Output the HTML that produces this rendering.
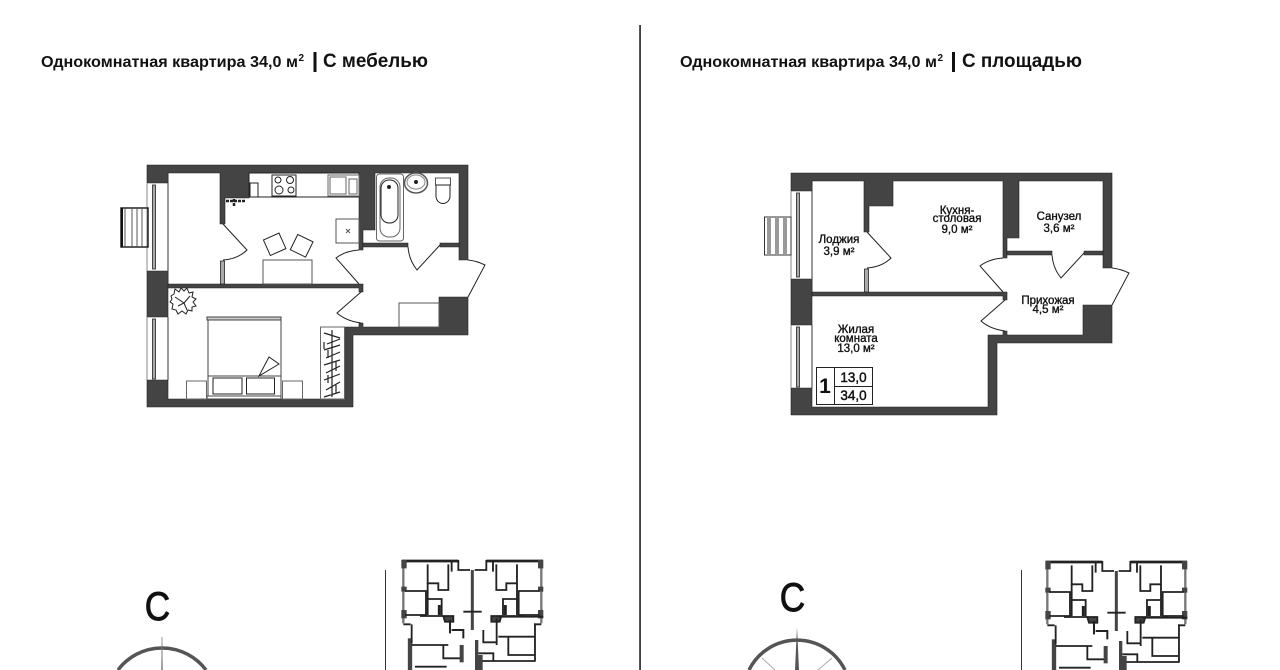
<!DOCTYPE html>
<html lang="ru">
<head>
<meta charset="utf-8">
<title>Однокомнатная квартира 34,0 м²</title>
<style>
html,body{margin:0;padding:0;background:#fff;width:1280px;height:670px;overflow:hidden}
svg{display:block}
text{font-family:"Liberation Sans",sans-serif;fill:#111}
.t{font-weight:bold;font-size:16px}
.t2{font-weight:bold;font-size:19.5px}
.s{font-weight:bold;font-size:10px}
.l{font-size:11.5px;text-anchor:middle;stroke:#111;stroke-width:.35}
.n{font-size:13.5px;text-anchor:middle;stroke:#111;stroke-width:.45}
</style>
</head>
<body>
<svg width="1280" height="670" viewBox="0 0 1280 670" xmlns="http://www.w3.org/2000/svg">
<defs>
<g id="walls">
  <g fill="#444" stroke="#222" stroke-width=".6">
    <path d="M147 165H468V260H459V173H375V230H363V250H359V173H249V198H225V224H220V173H168V183H147Z"/>
    <path d="M147 271H168V317H147Z"/>
    <path d="M147 380H168V399H344V327H359V323H363V327H439V297H468V335H353V407H147Z"/>
    <path d="M168 284H363V292H359V288H168Z"/>
    <path d="M363 243H408V247H363Z"/>
    <path d="M440 243H459V247H440Z"/>
  </g>
  <path d="M168 173V284M168 317V380" stroke="#333" stroke-width="1" fill="none"/>
  <path d="M147 183V271M147 317V380" stroke="#888" stroke-width="1" fill="none"/>
  <g fill="#aaa" stroke="#222" stroke-width=".8">
    <rect x="152.500" y="185" width="3" height="84"/>
    <rect x="152.500" y="319" width="3" height="60"/>
    <rect x="220.500" y="261" width="4" height="23"/>
  </g>
  <g fill="none" stroke="#222" stroke-width="1">
    <path d="M223 224L247 250Q238 259 223 260"/>
    <path d="M359 250Q345 251 336 258L359 284"/>
    <path d="M361 292L337 313Q346 321 361 323"/>
    <path d="M408 247Q409 260 417 270L440 245"/>
    <path d="M468 260Q477 261 485 265L468 297"/>
  </g>
</g>
<g id="building" transform="translate(380 555) scale(.3333)" fill="none" stroke="#222" stroke-width="5.500">
  <g id="half">
    <path d="M65 18H235" stroke-width="8"/>
    <path d="M70 18V205" stroke="#777" stroke-width="7"/>
    <path d="M64 15H80V40H64ZM64 95H80V110H64ZM64 165H80V190H64Z" fill="#444" stroke="none"/>
    <path d="M205 28V105H175V85H143V28"/>
    <path d="M75 108H138V180H75"/>
    <path d="M143 85V180M143 132H185V180"/>
    <path d="M70 208H92M120 183H190"/>
    <path d="M235 15V45H270M215 20V50"/>
    <path d="M190 183H220V200H195Z" fill="#444"/>
    <path d="M178 150V180" stroke-width="9"/>
  </g>
  <use href="#half" transform="translate(554 0) scale(-1 1)"/>
  <path d="M277 45V225" stroke="#444" stroke-width="9"/>
  <path d="M250 170H305"/>
  <path d="M90 250V345" stroke="#444" stroke-width="13"/>
  <path d="M95 270H205M95 208V265M105 335H200"/>
  <path d="M190 270V310H245"/>
  <path d="M245 270V322" stroke="#444" stroke-width="12"/>
  <path d="M215 225H250V250M210 195V235" stroke-width="6"/>
  <path d="M355 185H490M465 205V320M355 245H465M385 245V300H465"/>
  <path d="M290 255V345" stroke="#444" stroke-width="10"/>
  <path d="M295 295H340V318H295M340 318H465M310 225V262H350V225M350 190V270"/>
  <path d="M290 300H308V345H290Z" fill="#444" stroke="none"/>
</g>
</defs>

<rect width="1280" height="670" fill="#fff"/>
<rect x="639.300" y="25" width="1.500" height="645" fill="#111"/>

<text class="t" x="41" y="67" textLength="257" lengthAdjust="spacingAndGlyphs">Однокомнатная квартира 34,0 м</text>
<text class="s" x="298.500" y="61">2</text>
<rect x="313.500" y="52" width="3" height="20" fill="#111"/>
<text class="t2" x="323" y="67" textLength="105" lengthAdjust="spacingAndGlyphs">С мебелью</text>

<text class="t" x="680" y="67" textLength="257" lengthAdjust="spacingAndGlyphs">Однокомнатная квартира 34,0 м</text>
<text class="s" x="937.500" y="61">2</text>
<rect x="952" y="52" width="3" height="20" fill="#111"/>
<text class="t2" x="962" y="67" textLength="120" lengthAdjust="spacingAndGlyphs">С площадью</text>

<!-- left plan -->
<use href="#walls"/>
<g fill="#fff" stroke="#222" stroke-width="1">
  <rect x="249" y="173" width="110" height="24" fill="none"/>
  <rect x="272" y="175" width="24" height="21"/>
  <circle cx="278" cy="180" r="3"/><circle cx="290" cy="180" r="3.500"/><circle cx="279" cy="190" r="4"/><circle cx="291" cy="190" r="3"/>
  <rect x="250" y="183" width="8" height="14"/>
  <rect x="328" y="175" width="31" height="21" stroke="#666"/>
  <rect x="330" y="177" width="16" height="17" stroke="#666"/>
  <rect x="349" y="179" width="8" height="15" stroke="#666"/>
  <rect x="336" y="219" width="23" height="24" stroke="#555"/>
  <rect x="263" y="260" width="49" height="24" stroke="#555"/>
  <rect x="266" y="236" width="17" height="17" transform="rotate(-24 274 244)"/>
  <rect x="293" y="237" width="17" height="17" transform="rotate(26 301 246)"/>
  <rect x="376.500" y="174" width="27" height="67" rx="3" stroke="#666"/>
  <rect x="380" y="178" width="20" height="59" rx="9" stroke="#666"/>
  <rect x="381" y="180" width="17" height="43" rx="8"/>
  <circle cx="389" cy="187" r="1.500" fill="#222"/>
  <ellipse cx="416" cy="183" rx="11.500" ry="10" stroke="#555" stroke-width="1.500"/>
  <ellipse cx="416" cy="182" rx="9" ry="7" stroke="#888"/>
  <circle cx="416" cy="182" r="1.500" fill="#222"/>
  <rect x="435.500" y="178" width="15" height="7" stroke="#555"/>
  <path d="M436 185H450V196A7 7.500 0 0 1 436 196Z"/>
  <rect x="399" y="303" width="40" height="24" stroke="#555"/>
  <rect x="208" y="318" width="73" height="81" stroke="#444"/>
  <rect x="207" y="317" width="74" height="3" fill="#ccc" stroke="#444"/>
  <path d="M208 376H281" stroke="#444"/>
  <rect x="213" y="378" width="29" height="16"/>
  <rect x="246.500" y="378" width="28" height="16"/>
  <rect x="207" y="396" width="74" height="3" stroke="#444"/>
  <path d="M259 376L269 357L279 364Z"/>
  <rect x="186.500" y="381" width="20" height="18" stroke="#666"/>
  <rect x="282.500" y="381" width="20" height="18" stroke="#666"/>
  <rect x="320.500" y="327" width="24" height="72" stroke="#666"/>
</g>
<path d="M332 330V397M324 333L340 338M327 344L340 339M324 350L340 345M326 358L340 352M324 365L340 360M326 373L340 366M324 380L340 374M326 390L340 382M324 397L340 392M324 342V349M328 350V358M336 362V371M328 375V383M336 385V393" stroke="#222" stroke-width="1.200" fill="none"/>
<path d="M346 229L350 233M350 229L346 233" stroke="#555" fill="none"/>
<path d="M226 201H245M234 199V207" stroke="#222" stroke-width="2.500" stroke-dasharray="3 1" fill="none"/>
<path d="M171 296L174 294L175 289L179 292L181 288L184 291L187 288L189 293L193 292L192 297L196 299L193 302L196 306L192 307L192 311L188 310L186 314L182 311L178 314L176 310L172 309L173 304L170 302L172 299Z" fill="#fff" stroke="#222"/>
<path d="M175 297L184 303L178 306M184 303L190 296M184 303L187 310" fill="none" stroke="#222"/>
<g fill="none" stroke="#222">
  <rect x="121" y="208" width="27" height="39" stroke-width="1.500"/>
  <path d="M125 208V247M132 208V247M137 208V247M142 208V247" stroke="#555"/>
</g>
<path d="M122 208V247" stroke="#111" stroke-width="2"/>

<!-- right plan -->
<use href="#walls" x="644" y="8"/>
<rect x="764.500" y="217" width="26.500" height="38" fill="#fff" stroke="#333"/>
<path d="M769 217V255M777 217V255M785 217V255" stroke="#999" stroke-width="4"/>
<text class="l" x="839" y="243">Лоджия</text>
<text class="l" x="839" y="255">3,9 м²</text>
<text class="l" x="957" y="214">Кухня-</text>
<text class="l" x="957" y="222">столовая</text>
<text class="l" x="957" y="233">9,0 м²</text>
<text class="l" x="1059" y="220">Санузел</text>
<text class="l" x="1059" y="232">3,6 м²</text>
<text class="l" x="1048" y="304">Прихожая</text>
<text class="l" x="1048" y="313">4,5 м²</text>
<text class="l" x="856" y="333">Жилая</text>
<text class="l" x="856" y="342">комната</text>
<text class="l" x="856" y="352">13,0 м²</text>
<path d="M816.500 367.500H872.500V404.500H816.500ZM834.500 367.500V404.500M834.500 386.500H872.500" fill="#fff" stroke="#222"/>
<text x="825" y="393" text-anchor="middle" font-size="21" font-weight="bold">1</text>
<text class="n" x="853.500" y="382">13,0</text>
<text class="n" x="853.500" y="400">34,0</text>

<!-- compass left -->
<text x="0" y="0" font-size="40" text-anchor="middle" stroke="#111" stroke-width=".9" transform="translate(157.500 620) scale(.88 1)">С</text>
<path d="M118 670A55 55 0 0 1 206 670" fill="none" stroke="#555" stroke-width="3.500"/>
<path d="M161.500 670L162 637L162.500 670Z" fill="#666" stroke="#777" stroke-width=".5"/>
<!-- compass right -->
<text x="0" y="0" font-size="40" text-anchor="middle" stroke="#111" stroke-width=".9" transform="translate(792.500 611) scale(.88 1)">С</text>
<path d="M749 670A53.500 53.500 0 0 1 845 670" fill="none" stroke="#555" stroke-width="3.500"/>
<path d="M795 670L797 627L799 670Z" fill="#555"/>
<path d="M762 658L775 670M832 658L818 670" stroke="#aaa" fill="none"/>

<!-- building keys -->
<path d="M385.500 570V670" stroke="#333" stroke-width="1"/>
<use href="#building"/>
<path d="M1021.500 570V670" stroke="#333" stroke-width="1"/>
<use href="#building" x="644" y="1"/>
</svg>
</body>
</html>
